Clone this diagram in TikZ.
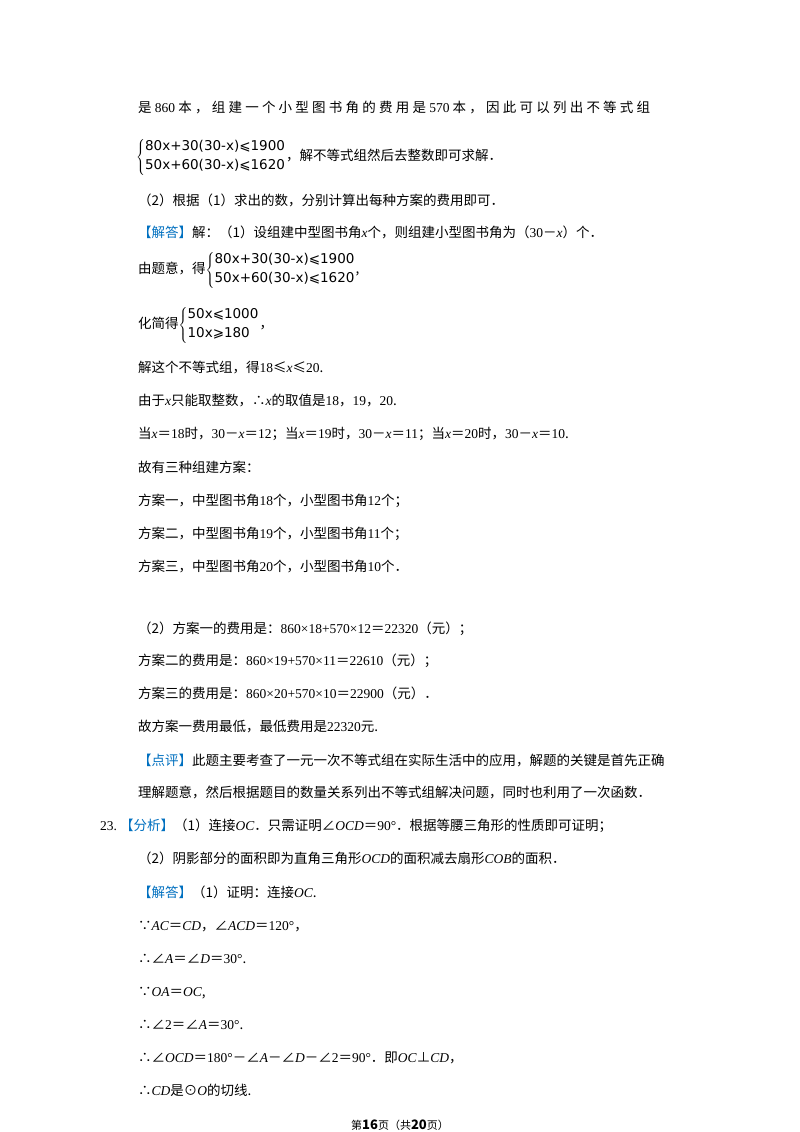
\documentclass[tikz,border=0pt]{standalone}
\usepackage{fontspec}
\setmainfont{Noto Sans CJK SC}
\newfontfamily\mif{Liberation Serif}[ItalicFont=Liberation Serif Italic]
\newfontfamily\eqf{DejaVu Sans}
\newcommand{\mi}[1]{{\mif\itshape #1}}
\newcommand{\nm}[1]{{\mif #1}}
\definecolor{tagblue}{HTML}{0070C0}
\newcommand{\tagb}[1]{{\color{tagblue}#1}}
\newcommand{\sys}[2]{$\left\{\begin{tabular}{@{}l@{}}\eqf #1\\[3pt]\eqf #2\end{tabular}\right.$}
\begin{document}
\begin{tikzpicture}[x=1pt,y=-1pt,
  txt/.style={anchor=base west,inner sep=0pt,font=\fontsize{13.5}{16}\selectfont}]
\useasboundingbox[fill=white] (0,0) rectangle (800,1132);
\node[txt] (l1) at (138,112) {\makebox[512pt][s]{是 \nm{860} 本 ， 组 建 一 个 小 型 图 书 角 的 费 用 是 \nm{570} 本 ， 因 此 可 以 列 出 不 等 式 组}};
\node[anchor=west,inner sep=0pt,font=\fontsize{13.5}{16}\selectfont] (l2) at (136,157) {\sys{80x+30(30-x)⩽1900}{50x+60(30-x)⩽1620}，解不等式组然后去整数即可求解．};
\node[txt] (l3) at (138,205) {（2）根据（1）求出的数，分别计算出每种方案的费用即可．};
\node[txt] (l4) at (138,237) {\tagb{【解答】}解：（1）设组建中型图书角\mi{x}个，则组建小型图书角为（\nm{30}－\mi{x}）个．};
\node[anchor=west,inner sep=0pt,font=\fontsize{13.5}{16}\selectfont] (l5) at (138,270) {由题意，得\sys{80x+30(30-x)⩽1900}{50x+60(30-x)⩽1620},};
\node[anchor=west,inner sep=0pt,font=\fontsize{13.5}{16}\selectfont] (l6) at (138,325) {化简得\sys{50x⩽1000}{10x⩾180}，};
\node[txt] (l7) at (138,372) {解这个不等式组，得\nm{18}≤\mi{x}≤\nm{20}.};
\node[txt] (l8) at (138,405) {由于\mi{x}只能取整数，∴\mi{x}的取值是\nm{18}，\nm{19}，\nm{20}.};
\node[txt] (l9) at (138,438) {当\mi{x}＝\nm{18}时，\nm{30}－\mi{x}＝\nm{12}；当\mi{x}＝\nm{19}时，\nm{30}－\mi{x}＝\nm{11}；当\mi{x}＝\nm{20}时，\nm{30}－\mi{x}＝\nm{10}.};
\node[txt] (l10) at (138,472) {故有三种组建方案：};
\node[txt] (l11) at (138,505) {方案一，中型图书角\nm{18}个，小型图书角\nm{12}个；};
\node[txt] (l12) at (138,538) {方案二，中型图书角\nm{19}个，小型图书角\nm{11}个；};
\node[txt] (l13) at (138,571) {方案三，中型图书角\nm{20}个，小型图书角\nm{10}个．};
\node[txt] (l14) at (138,633) {（2）方案一的费用是：\nm{860×18+570×12}＝\nm{22320}（元）；};
\node[txt] (l15) at (138,665) {方案二的费用是：\nm{860×19+570×11}＝\nm{22610}（元）；};
\node[txt] (l16) at (138,698) {方案三的费用是：\nm{860×20+570×10}＝\nm{22900}（元）．};
\node[txt] (l17) at (138,731) {故方案一费用最低，最低费用是\nm{22320}元.};
\node[txt] (l18) at (138,765) {\tagb{【点评】}此题主要考查了一元一次不等式组在实际生活中的应用，解题的关键是首先正确};
\node[txt] (l19) at (138,797) {理解题意，然后根据题目的数量关系列出不等式组解决问题，同时也利用了一次函数．};
\node[txt] (l20) at (100,830) {\nm{23.}\ \tagb{【分析】}（1）连接\mi{OC}．只需证明∠\mi{OCD}＝\nm{90°}．根据等腰三角形的性质即可证明；};
\node[txt] (l21) at (138,863) {（2）阴影部分的面积即为直角三角形\mi{OCD}的面积减去扇形\mi{COB}的面积．};
\node[txt] (l22) at (138,897) {\tagb{【解答】}（1）证明：连接\mi{OC}.};
\node[txt] (l23) at (138,930) {∵\mi{AC}＝\mi{CD}，∠\mi{ACD}＝\nm{120°}，};
\node[txt] (l24) at (138,963) {∴∠\mi{A}＝∠\mi{D}＝\nm{30°}.};
\node[txt] (l25) at (138,996) {∵\mi{OA}＝\mi{OC},};
\node[txt] (l26) at (138,1029) {∴∠\nm{2}＝∠\mi{A}＝\nm{30°}.};
\node[txt] (l27) at (138,1062) {∴∠\mi{OCD}＝\nm{180°}－∠\mi{A}－∠\mi{D}－∠\nm{2}＝\nm{90°}．即\mi{OC}⊥\mi{CD}，};
\node[txt] (l28) at (138,1095) {∴\mi{CD}是⊙\mi{O}的切线.};
\node[anchor=base,inner sep=0pt,font=\fontsize{11}{13}\selectfont] (ft) at (400,1129) {第{\fontsize{13}{13}\selectfont\bfseries 16}页（共{\fontsize{13}{13}\selectfont\bfseries 20}页）};
\end{tikzpicture}
\end{document}
